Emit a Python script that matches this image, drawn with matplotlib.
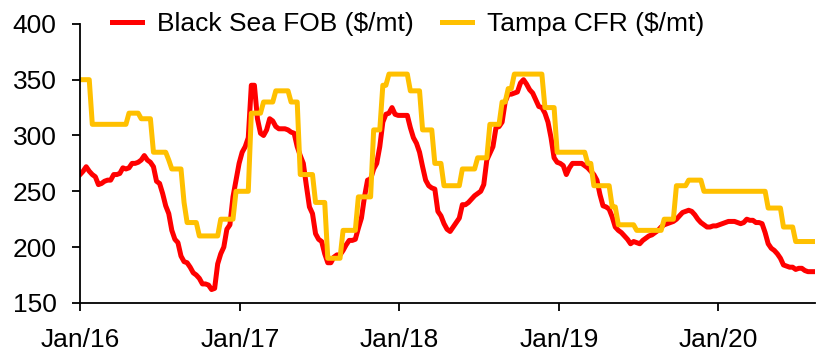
import numpy as np
import pandas as pd
import matplotlib
matplotlib.use("Agg")
import matplotlib.pyplot as plt
import matplotlib.dates as mdates

plt.rcParams['font.family'] = ['Liberation Sans', 'DejaVu Sans']

# Weekly observations starting first week of 2016
start_date = "2016-01-01"
n_weeks = 241

# Black Sea FOB, weekly ($/mt)
black_sea_fob = [
    265, 268, 272, 268, 265, 263, 256, 257, 259, 260,
    260, 265, 265, 266, 271, 270, 271, 275, 275, 276,
    278, 282, 278, 276, 272, 259, 257, 248, 237, 230,
    215, 207, 204, 192, 187, 186, 182, 177, 175, 172,
    167, 167, 166, 162, 163, 185, 194, 200, 216, 220,
    245, 260, 275, 285, 290, 298, 345, 345, 315, 302,
    300, 305, 315, 313, 308, 306, 306, 306, 305, 303,
    302, 290, 282, 275, 255, 236, 230, 212, 207, 205,
    194, 186, 186, 191, 193, 193, 197, 202, 206, 206,
    207, 217, 226, 245, 260, 261, 270, 275, 290, 312,
    319, 320, 325, 319, 318, 318, 318, 318, 307, 298,
    293, 285, 272, 260, 255, 253, 252, 232, 228, 221,
    216, 214, 218, 222, 226, 238, 238, 240, 243, 246,
    248, 250, 256, 278, 284, 290, 307, 308, 312, 330,
    337, 337, 338, 339, 347, 350, 346, 341, 338, 332,
    326, 325, 320, 312, 298, 280, 276, 275, 273, 265,
    271, 275, 275, 275, 275, 273, 271, 268, 265, 260,
    247, 237, 236, 234, 227, 218, 215, 213, 210, 207,
    203, 205, 204, 203, 206, 208, 210, 211, 213, 215,
    218, 220, 221, 222, 223, 225, 228, 231, 232, 233,
    232, 229, 225, 222, 220, 218, 218, 219, 219, 220,
    221, 222, 223, 223, 223, 222, 221, 222, 225, 224,
    224, 222, 222, 221, 213, 203, 199, 197, 194, 190,
    184, 183, 182, 182, 180, 181, 181, 179, 178, 178,
    178,
]

# Tampa CFR: posted price levels ($/mt) and the number of weeks each held
tampa_levels = [
    350, 310, 320, 315, 285, 278, 270, 240, 222, 210,
    225, 250, 320, 330, 340, 330, 265, 240, 190, 215,
    245, 305, 345, 355, 340, 305, 275, 255, 270, 280,
    310, 330, 342, 355, 325, 285, 275, 255, 236, 220,
    215, 225, 255, 260, 250, 235, 218, 205,
]
tampa_weeks = [
    4, 12, 4, 4, 5, 1, 4, 1, 4, 7,
    5, 5, 4, 4, 5, 3, 5, 4, 5, 5,
    5, 3, 2, 7, 4, 4, 3, 6, 5, 4,
    4, 2, 2, 10, 4, 10, 2, 6, 2, 6,
    9, 4, 4, 5, 21, 5, 4, 7,
]

year_ticks = ["2016-01-01", "2017-01-01", "2018-01-01", "2019-01-01", "2020-01-01"]

dates = pd.date_range(start_date, periods=n_weeks, freq="7D")
tampa_cfr = np.repeat(tampa_levels, tampa_weeks)

fig = plt.figure(figsize=(8.17, 3.51), dpi=100)
ax = fig.add_axes([0.098, 0.137, 0.9, 0.795])

ax.plot(dates, black_sea_fob, color="#FF0000", lw=3.6, label="Black Sea FOB ($/mt)",
        solid_joinstyle="round")
ax.plot(dates, tampa_cfr, color="#FFC000", lw=3.6, label="Tampa CFR ($/mt)",
        solid_joinstyle="round")

ax.set_ylim(150, 400)
ax.set_yticks([150, 200, 250, 300, 350, 400])
ax.set_xlim(dates[0], dates[-1] + pd.Timedelta(days=3))
ax.set_xticks(pd.to_datetime(year_ticks))
ax.xaxis.set_major_formatter(mdates.DateFormatter("%b/%y"))

for side in ("top", "right"):
    ax.spines[side].set_visible(False)
for side in ("left", "bottom"):
    ax.spines[side].set_linewidth(1.3)
    ax.spines[side].set_color("black")

ax.tick_params(axis="both", labelsize=19, width=1.3, length=6, color="black",
               labelcolor="black")
ax.tick_params(axis="y", pad=11)
ax.tick_params(axis="x", pad=12)

leg = ax.legend(loc="upper left", bbox_to_anchor=(0.137, 0.966), bbox_transform=fig.transFigure,
                ncol=2, frameon=False, fontsize=19, handlelength=1.14,
                handletextpad=0.57, columnspacing=1.05, borderaxespad=0,
                borderpad=0)

fig.savefig("out.png", dpi=100)
